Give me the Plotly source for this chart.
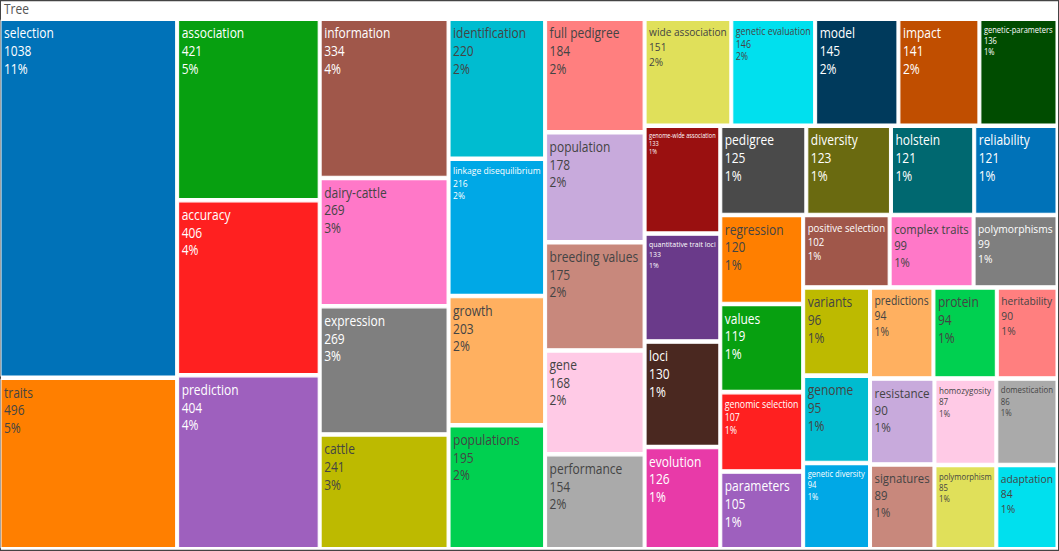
import plotly.graph_objects as go

root_label = "Tree"

terms = [
    "selection", "traits", "association", "accuracy", "prediction",
    "information", "dairy-cattle", "expression", "cattle", "identification",
    "linkage disequilibrium", "growth", "populations", "full pedigree", "population",
    "breeding values", "gene", "performance", "wide association", "genetic evaluation",
    "model", "impact", "genetic-parameters", "genome-wide association", "quantitative trait loci",
    "loci", "evolution", "pedigree", "diversity", "holstein",
    "reliability", "regression", "values", "genomic selection", "parameters",
    "positive selection", "complex traits", "polymorphisms", "variants", "genome",
    "genetic diversity", "predictions", "protein", "heritability", "resistance",
    "signatures", "homozygosity", "domestication", "polymorphism", "adaptation",
]

counts = [
    1038, 496, 421, 406, 404,
    334, 269, 269, 241, 220,
    216, 203, 195, 184, 178,
    175, 168, 154, 151, 146,
    145, 141, 136, 133, 133,
    130, 126, 125, 123, 121,
    121, 120, 119, 107, 105,
    102, 99, 99, 96, 95,
    94, 94, 94, 90, 90,
    89, 87, 86, 85, 84,
]

palette = [
    "#0072B8", "#FF7F00", "#07A010", "#FF2020", "#9E60BE",
    "#A0574A", "#FF78C8", "#7F7F7F", "#BDBA00", "#00BCD0",
    "#00A8E6", "#FFB060", "#00D050", "#FF7F7F", "#C8AADC",
    "#C8887C", "#FFCAE6", "#AAAAAA", "#E0E05A", "#00E0EE",
    "#003A5C", "#C04E00", "#004C00", "#9A1010", "#6A3A8A",
    "#4A2820", "#E83AA8", "#4A4A4A", "#6A6A10", "#006870",
]

labels = [root_label] + terms
parents = [""] + [root_label] * len(terms)
values = [sum(counts)] + counts
colors = ["rgba(255,255,255,0)"] + [palette[i % len(palette)] for i in range(len(terms))]
line_colors = ["rgba(255,255,255,0)"] + ["white"] * len(terms)
line_widths = [0] + [1] * len(terms)
# root header text is drawn as an annotation below (header band is too thin)
text_colors = ["rgba(0,0,0,0)"] + [None] * len(terms)

# The reference tiles were laid out on a wider-than-shown canvas and then
# stretched vertically; reproduce that by drawing at 1059x487 and scaling.
W, H = 1059, 487
stretch = 551 / H

fig = go.Figure(go.Treemap(
    labels=labels,
    parents=parents,
    values=values,
    branchvalues="total",
    marker=dict(colors=colors, line=dict(color=line_colors, width=line_widths),
                pad=dict(t=18, l=1, r=3, b=3)),
    tiling=dict(packing="squarify", pad=3),
    texttemplate="%{label}<br>%{value}<br>%{percentRoot:.0%}",
    textposition="top left",
    textfont=dict(family="Open Sans", size=12),
    pathbar=dict(visible=False),
    hoverinfo="skip",
))

fig.add_annotation(
    text=root_label, xref="paper", yref="paper",
    x=2 / W, y=1 - 7.5 / H, xanchor="left", yanchor="middle",
    showarrow=False, font=dict(family="Open Sans", size=12, color="#555555"),
)

fig.update_layout(
    width=W, height=H,
    margin=dict(l=0, r=0, t=0, b=0),
    paper_bgcolor="white",
    font=dict(family="Open Sans"),
)

post = (
    "document.documentElement.style.overflow='hidden';"
    "var gd=document.getElementById('{plot_id}');"
    "gd.style.position='absolute';gd.style.left='0px';gd.style.top='0px';"
    "gd.style.transformOrigin='0 0';"
    "gd.style.transform='scale(1,%.5f)';"
    "var hdr=gd.querySelectorAll('.slicetext');"
    "hdr.forEach(function(t){if(t.textContent==='%s'){t.style.display='none';}});"
    % (stretch, root_label)
)

fig.write_html("out.html", post_script=post, config={"displayModeBar": False})
